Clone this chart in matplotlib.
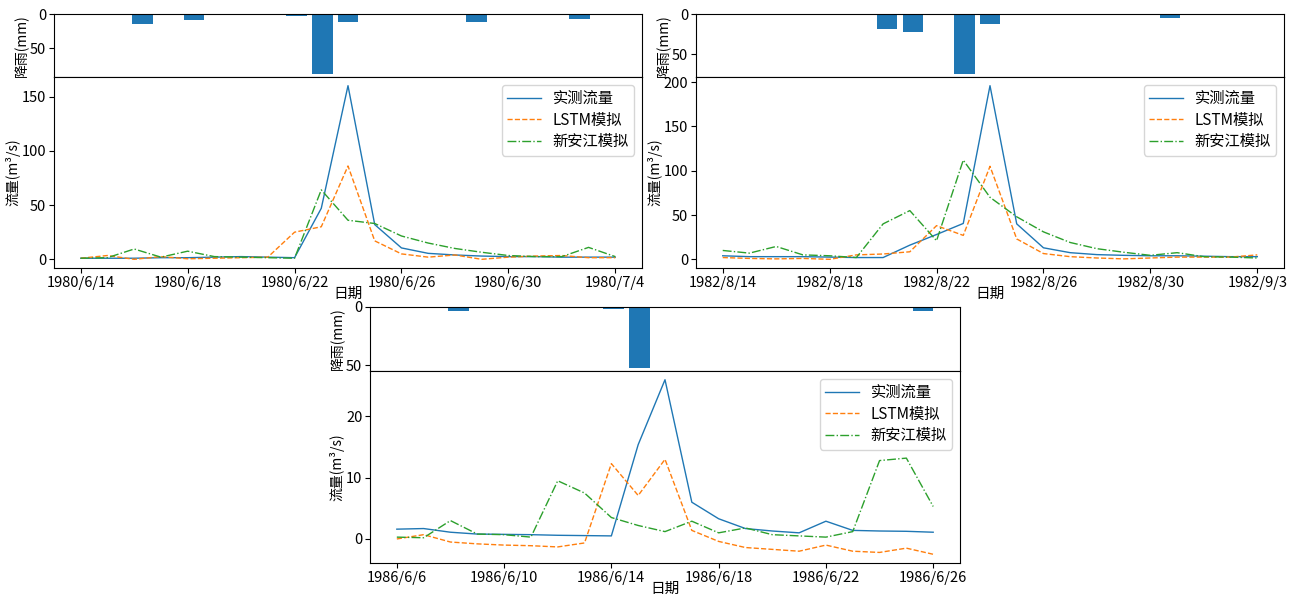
import matplotlib
matplotlib.use("Agg")
import matplotlib.pyplot as plt
import pandas as pd
from matplotlib.ticker import MultipleLocator, FuncFormatter

plt.rcParams['font.family'] = ['Noto Sans CJK SC', 'DejaVu Sans']
plt.rcParams['axes.unicode_minus'] = False

# ---------------- data ----------------
start_1980 = "1980-06-14"
start_1982 = "1982-08-14"
start_1986 = "1986-06-06"
n_days = 21

rain_1980 = [0, 0.3, 14.2, 0, 9.3, 0, 0, 0, 3, 88, 12.3, 0, 0, 0, 0, 12.3, 0, 0, 0, 7.4, 0]
obs_1980 = [1, 1, 1, 1.5, 1.5, 2, 2.5, 2, 1.5, 47, 160, 32, 10.5, 5.5, 4, 3, 2.5, 2.5, 2, 2, 2]
lstm_1980 = [1, 3.5, 0, 2.5, 0.5, 1, 1.5, 2, 25, 30, 86, 17, 5, 2, 4, 0, 2, 3, 3.5, 1.5, 1.5]
xaj_1980 = [1, 1.5, 9.5, 2, 7.5, 2.5, 2, 1.5, 1, 64, 36, 33, 21.5, 15, 10, 6.5, 3.5, 2.5, 2.5, 11, 2.5]

rain_1982 = [0, 0, 0, 0, 0, 1.2, 19, 22.5, 0, 75, 13, 0, 0, 0.3, 0, 0, 0, 5, 0, 0, 0]
obs_1982 = [4, 3, 3, 3, 2.5, 2, 2, 16, 28, 40.5, 196, 40, 13, 7.5, 5.3, 4.5, 4, 4, 3.5, 3, 3]
lstm_1982 = [2, 1, 0.5, 1, 0, 5, 6, 8.5, 38, 27, 105, 23, 6.5, 3, 1.5, 0.5, 1.5, 2.5, 2.5, 2.5, 5]
xaj_1982 = [10, 7, 14.5, 5, 4, 2, 40, 55, 21, 112, 70, 48, 31, 19, 12, 8, 4.5, 7.5, 3, 2.5, 1.5]

rain_1986 = [0.2, 0, 3.8, 0, 0, 0, 0, 0, 2, 52.5, 0, 0, 0, 0, 0, 0, 0, 0, 0, 0, 3.8]
obs_1986 = [1.6, 1.7, 1.1, 0.8, 0.75, 0.7, 0.6, 0.55, 0.5, 15.4, 26, 6.0, 3.3, 1.7, 1.3, 1.0, 2.9, 1.4, 1.3, 1.25, 1.1]
lstm_1986 = [0, 0.7, -0.5, -0.8, -1.0, -1.1, -1.3, -0.65, 12.3, 7.1, 13.0, 1.4, -0.4, -1.4, -1.7, -2.0, -1.0, -2.0, -2.2, -1.5, -2.5]
xaj_1986 = [0.3, 0.2, 3.0, 0.8, 0.7, 0.3, 9.5, 7.5, 3.5, 2.2, 1.2, 2.9, 1.0, 1.8, 0.7, 0.5, 0.3, 1.2, 12.8, 13.2, 5.3]

labels = ['实测流量', 'LSTM模拟', '新安江模拟']
rain_label = '降雨(mm)'
flow_label = '流量(m³/s)'
x_label = '日期'

W, H = 1291, 598
fig = plt.figure(figsize=(W / 100, H / 100), dpi=100)


def px_axes(l, t, r, b):
    return fig.add_axes([l / W, 1 - b / H, (r - l) / W, (b - t) / H])


def date_fmt(x, pos):
    d = matplotlib.dates.num2date(x)
    return f"{d.year}/{d.month}/{d.day}"


def panel(l, r, t, mid, b, start, rain, obs, lstm, xaj, flow_step):
    dates = pd.date_range(start, periods=n_days, freq='D')
    ax_r = px_axes(l, t, r, mid)
    ax_r.bar(range(len(rain)), rain, width=0.8, color='C0')
    ax_r.invert_yaxis()
    ax_r.set_xticks([])
    ax_r.set_yticks([0, 50])
    ax_r.set_ylabel(rain_label, fontsize=10, labelpad=1)
    ax_r.tick_params(labelsize=10.5, pad=2)

    ax_f = px_axes(l, mid, r, b)
    ax_f.plot(dates, obs, color='C0', lw=1, label=labels[0])
    ax_f.plot(dates, lstm, color='C1', lw=1, ls='--', label=labels[1])
    ax_f.plot(dates, xaj, color='C2', lw=1, ls='-.', label=labels[2])
    ax_f.set_xticks(dates[::4])
    ax_f.xaxis.set_major_formatter(FuncFormatter(date_fmt))
    ax_f.yaxis.set_major_locator(MultipleLocator(flow_step))
    ax_f.tick_params(labelsize=10.5, pad=2)
    ax_f.set_ylabel(flow_label, fontsize=10, labelpad=1)
    ax_f.set_xlabel(x_label, fontsize=10.5, labelpad=-2)
    ax_f.legend(loc='upper right', fontsize=11, labelspacing=0.3,
                handlelength=2.2, borderpad=0.35)


panel(54, 642, 14, 77, 268, start_1980, rain_1980, obs_1980, lstm_1980, xaj_1980, 50)
panel(696, 1284, 14, 77, 268, start_1982, rain_1982, obs_1982, lstm_1982, xaj_1982, 50)
panel(370, 960, 307, 371, 563, start_1986, rain_1986, obs_1986, lstm_1986, xaj_1986, 10)

fig.savefig('out.png', dpi=100)
